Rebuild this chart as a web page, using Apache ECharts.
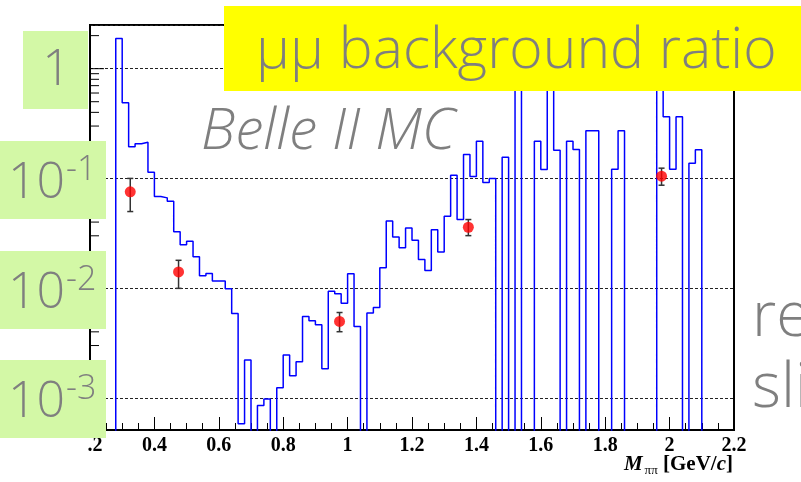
<!DOCTYPE html>
<html><head><meta charset="utf-8">
<script src="https://cdn.jsdelivr.net/npm/echarts@6/dist/echarts.min.js"></script>
<style>html,body{margin:0;padding:0;background:#fff}#c{width:801px;height:482px}</style>
</head><body><div id="c"></div>
<script>
// ---- data ----
const binStart = 0.28;          // lower edge of first histogram bin (GeV/c)
const binWidth = 0.02;          // bin width (GeV/c)
// MC mu-mu background ratio per bin (0 = empty bin, 3 = off-scale above the frame)
const ratioValues = [
  1.88, 0.489, 0.194, 0.207, 0.214, 0.114, 0.0684, 0.0665, 0.0620, 0.0326,
  0.0248, 0.0267, 0.0193, 0.0130, 0.0136, 0.0116, 0.0116, 0.0099, 0.00589, 0.00058,
  0.00221, 0, 0.000853, 0.000976, 0, 0.00124, 0.00246, 0.00159, 0.00213, 0.00553,
  0.00505, 0.00464, 0.00184, 0.00935, 0.00891, 0.00727, 0.01355, 0.00448, 0, 0.00594,
  0.00668, 0.01538, 0.0410, 0.0293, 0.0234, 0.0354, 0.0273, 0.0182, 0.0145, 0.0340,
  0.0214, 0.0452, 0.107, 0.0422, 0.165, 0.104, 0.2185, 0.092, 0.0998, 0,
  0.156, 0, 3, 0, 0, 0.2185, 0.1206, 3, 0.181, 0,
  0.2185, 0.1835, 0, 0.272, 0.272, 0, 0, 0.1213, 0.272, 0,
  0, 0, 0, 0, 3, 0.365, 0.1213, 0.365, 0, 0.1376,
  0.1823
];
// measured points with error bars
const pointX    = [0.325, 0.475, 0.975, 1.375, 1.975];
const pointY    = [0.0755, 0.01405, 0.00498, 0.0359, 0.1047];
const pointLow  = [0.0499, 0.00996, 0.00401, 0.0301, 0.0867];
const pointHigh = [0.100, 0.01794, 0.0060, 0.0422, 0.124];
// y-axis decade tick values and their slide labels
const yMajorTicks = [0.001, 0.01, 0.1, 1];
const yMinorMult = [2, 3, 4, 5, 6, 7, 8, 9];
const decadeMain = ['1', '10', '10', '10'];
const decadeSup  = ['', '-1', '-2', '-3'];
const titleText = 'μμ background ratio';
const mcText = 'Belle II MC';
const sideTexts = ['re', 'sli'];

// ---- build ----
const yMin = 5.1e-4, yMax = 2.5;
const FLOOR = 1e-7;
const histPts = [[binStart, FLOOR]];
ratioValues.forEach((v, i) => {
  histPts.push([+(binStart + i * binWidth).toFixed(2), v > 0 ? v : FLOOR]);
});
const endX = +(binStart + ratioValues.length * binWidth).toFixed(2);
const lastV = ratioValues[ratioValues.length - 1];
histPts.push([endX, lastV > 0 ? lastV : FLOOR]);
histPts.push([endX, FLOOR]);

const yTickData = [];
for (let e = -4; e <= 0; e++) {
  const base = Math.pow(10, e);
  yMinorMult.forEach(m => { const v = m * base; if (v >= yMin && v <= yMax) yTickData.push([v, 0]); });
}
yMajorTicks.forEach(v => yTickData.push([v, 1]));

const gray = '#7f7f7f';
const sans = '"Open Sans", Lato, sans-serif';
const boxes = [
  {x: 23, y: 31, w: 65, h: 78},
  {x: 0, y: 141, w: 106, h: 78},
  {x: 0, y: 251, w: 106, h: 78},
  {x: 0, y: 360, w: 106, h: 78}
];
const graphics = [
  {type: 'rect', z: 50, shape: {x: 0, y: 438, width: 87, height: 44}, style: {fill: '#fff'}},
  {type: 'rect', z: 100, shape: {x: 224, y: 6, width: 577, height: 85}, style: {fill: '#ffff00'}},
  {type: 'text', z: 101, x: 256, y: 52, style: {text: titleText, fill: gray, font: '300 57px ' + sans, verticalAlign: 'middle', align: 'left'}},
  {type: 'text', z: 101, x: 201, y: 133, style: {text: mcText, fill: gray, font: 'italic 300 57px ' + sans, verticalAlign: 'middle', align: 'left'}},
  {type: 'text', z: 101, x: 752, y: 318, style: {text: sideTexts[0], fill: gray, font: '300 62px ' + sans, verticalAlign: 'middle', align: 'left'}},
  {type: 'text', z: 101, x: 752, y: 389, style: {text: sideTexts[1], fill: gray, font: '300 62px ' + sans, verticalAlign: 'middle', align: 'left'}},
  {type: 'text', z: 101, right: 68, top: 454, style: {
    text: '{i|M}{s|ππ} {b|[GeV/}{bi|c}{b|]}',
    rich: {
      i: {fontFamily: 'Liberation Serif', fontStyle: 'italic', fontWeight: 'bold', fontSize: 21, fill: '#000'},
      s: {fontFamily: 'Liberation Serif', fontSize: 13, fill: '#000', padding: [12, 2, 0, 2]},
      b: {fontFamily: 'Liberation Serif', fontWeight: 'bold', fontSize: 21, fill: '#000'},
      bi: {fontFamily: 'Liberation Serif', fontStyle: 'italic', fontWeight: 'bold', fontSize: 21, fill: '#000'}
    }}}
];
boxes.forEach((b, i) => {
  graphics.push({type: 'rect', z: 100, shape: {x: b.x, y: b.y, width: b.w, height: b.h}, style: {fill: '#d3f8a6'}});
  if (decadeSup[i]) {
    graphics.push({type: 'text', z: 101, x: 8, y: b.y + 40, style: {
      text: '{m|' + decadeMain[i] + '}{s|' + decadeSup[i] + '}',
      verticalAlign: 'middle', align: 'left',
      rich: {
        m: {fontFamily: sans, fontWeight: 300, fontSize: 50, fill: gray, verticalAlign: 'bottom'},
        s: {fontFamily: sans, fontWeight: 300, fontSize: 34, fill: gray, verticalAlign: 'bottom', padding: [0, 0, 21, 1]}
      }}});
  } else {
    graphics.push({type: 'text', z: 101, x: b.x + b.w / 2 + 1, y: b.y + 40, style: {
      text: decadeMain[i], fill: gray, font: '300 50px ' + sans, verticalAlign: 'middle', align: 'center'}});
  }
});

const chart = echarts.init(document.getElementById('c'), null, {renderer: 'canvas'});
chart.setOption({
  animation: false,
  backgroundColor: '#fff',
  grid: {left: 90, top: 25, right: 67, bottom: 52, show: true, borderColor: '#000', borderWidth: 2, backgroundColor: 'transparent'},
  xAxis: {
    type: 'value', min: 0.2, max: 2.2, interval: 0.2,
    axisLine: {show: true, lineStyle: {color: '#000', width: 2}},
    axisTick: {show: true, inside: true, length: 13, lineStyle: {color: '#000', width: 1}},
    minorTick: {show: true, splitNumber: 4, length: 7, lineStyle: {color: '#000', width: 1}},
    axisLabel: {color: '#000', fontFamily: 'Liberation Serif', fontWeight: 'bold', fontSize: 20, margin: 6, showMinLabel: true, showMaxLabel: true},
    splitLine: {show: false}
  },
  yAxis: {
    type: 'log', logBase: 10, min: yMin, max: yMax,
    axisLine: {show: true, lineStyle: {color: '#000', width: 2}},
    axisTick: {show: false},
    axisLabel: {show: false},
    splitLine: {show: true, lineStyle: {color: '#222', width: 1, type: [3, 2]}}
  },
  graphic: graphics,
  series: [
    {type: 'line', step: 'end', data: histPts, symbol: 'none', clip: true, z: 3,
     lineStyle: {color: '#0000ff', width: 1.5}},
    {type: 'custom', z: 4, data: pointX.map((x, i) => [x, pointLow[i], pointHigh[i]]),
     renderItem: (params, api) => {
       const lo = api.coord([api.value(0), api.value(1)]);
       const hi = api.coord([api.value(0), api.value(2)]);
       const st = {stroke: '#333', lineWidth: 1.5};
       return {type: 'group', children: [
         {type: 'line', shape: {x1: lo[0], y1: lo[1], x2: hi[0], y2: hi[1]}, style: st},
         {type: 'line', shape: {x1: lo[0] - 3, y1: lo[1], x2: lo[0] + 3, y2: lo[1]}, style: st},
         {type: 'line', shape: {x1: hi[0] - 3, y1: hi[1], x2: hi[0] + 3, y2: hi[1]}, style: st}
       ]};
     }},
    {type: 'scatter', z: 5, data: pointX.map((x, i) => [x, pointY[i]]), symbol: 'circle', symbolSize: 11,
     itemStyle: {color: '#ff0000'}},
    {type: 'custom', z: 6, data: yTickData,
     renderItem: (params, api) => {
       const p = api.coord([0.2, api.value(0)]);
       const len = api.value(1) ? 14 : 9;
       return {type: 'line', shape: {x1: p[0], y1: p[1], x2: p[0] + len, y2: p[1]}, style: {stroke: '#000', lineWidth: 1}};
     }}
  ]
});
</script>
</body></html>
